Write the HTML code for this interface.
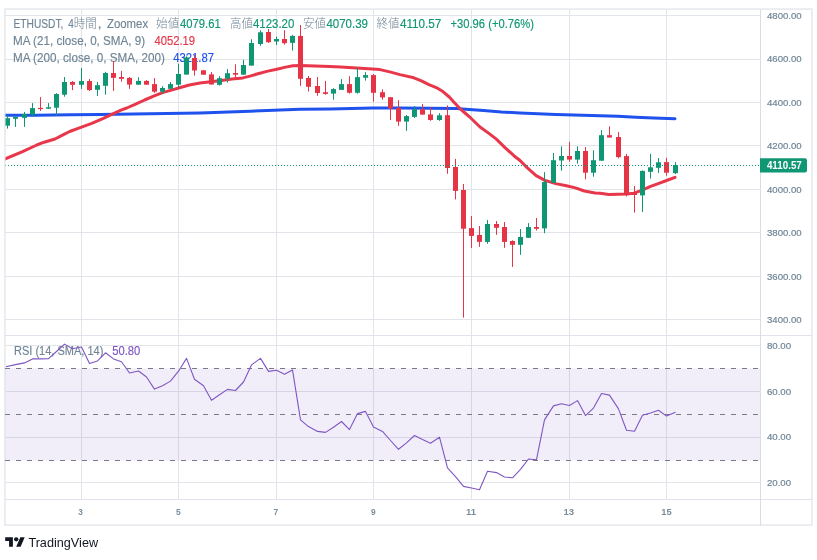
<!DOCTYPE html><html><head><meta charset="utf-8"><style>
html,body{margin:0;padding:0;background:#fff;width:817px;height:560px;overflow:hidden}
svg{display:block;will-change:transform}
text{font-family:"Liberation Sans","Noto Sans CJK JP",sans-serif}
</style></head><body>
<svg width="817" height="560" viewBox="0 0 817 560">
<defs><clipPath id="cm"><rect x="5.5" y="10" width="755" height="325"/></clipPath>
<clipPath id="cr"><rect x="5.5" y="336" width="755" height="163"/></clipPath></defs>
<rect x="4.9" y="9.1" width="807" height="516" fill="#fff" stroke="#e9ebf0" stroke-width="1.8"/>
<line x1="5.5" x2="760.5" y1="15.5" y2="15.5" stroke="#e1e4e9" stroke-width="1"/>
<line x1="5.5" x2="760.5" y1="59.5" y2="59.5" stroke="#e1e4e9" stroke-width="1"/>
<line x1="5.5" x2="760.5" y1="102.5" y2="102.5" stroke="#e1e4e9" stroke-width="1"/>
<line x1="5.5" x2="760.5" y1="145.5" y2="145.5" stroke="#e1e4e9" stroke-width="1"/>
<line x1="5.5" x2="760.5" y1="189.5" y2="189.5" stroke="#e1e4e9" stroke-width="1"/>
<line x1="5.5" x2="760.5" y1="232.5" y2="232.5" stroke="#e1e4e9" stroke-width="1"/>
<line x1="5.5" x2="760.5" y1="276.5" y2="276.5" stroke="#e1e4e9" stroke-width="1"/>
<line x1="5.5" x2="760.5" y1="319.5" y2="319.5" stroke="#e1e4e9" stroke-width="1"/>
<line x1="5.5" x2="760.5" y1="345.5" y2="345.5" stroke="#e1e4e9" stroke-width="1"/>
<line x1="5.5" x2="760.5" y1="391.5" y2="391.5" stroke="#e1e4e9" stroke-width="1"/>
<line x1="5.5" x2="760.5" y1="437.5" y2="437.5" stroke="#e1e4e9" stroke-width="1"/>
<line x1="5.5" x2="760.5" y1="482.5" y2="482.5" stroke="#e1e4e9" stroke-width="1"/>
<line x1="81.5" x2="81.5" y1="10" y2="499" stroke="#e1e4e9" stroke-width="1"/>
<line x1="178.5" x2="178.5" y1="10" y2="499" stroke="#e1e4e9" stroke-width="1"/>
<line x1="276.5" x2="276.5" y1="10" y2="499" stroke="#e1e4e9" stroke-width="1"/>
<line x1="373.5" x2="373.5" y1="10" y2="499" stroke="#e1e4e9" stroke-width="1"/>
<line x1="471.5" x2="471.5" y1="10" y2="499" stroke="#e1e4e9" stroke-width="1"/>
<line x1="569.5" x2="569.5" y1="10" y2="499" stroke="#e1e4e9" stroke-width="1"/>
<line x1="666.5" x2="666.5" y1="10" y2="499" stroke="#e1e4e9" stroke-width="1"/>
<rect x="5.5" y="368.5" width="755.0" height="92" fill="#7e57c2" fill-opacity="0.1"/>
<line x1="5" x2="812" y1="335.5" y2="335.5" stroke="#e0e3eb" stroke-width="1"/>
<line x1="5" x2="812" y1="499.5" y2="499.5" stroke="#e0e3eb" stroke-width="1"/>
<line x1="760.5" x2="760.5" y1="10" y2="525" stroke="#d9dde3" stroke-width="1"/>
<line x1="5" x2="759" y1="368.5" y2="368.5" stroke="#787b86" stroke-width="1" stroke-dasharray="5 6"/>
<line x1="5" x2="759" y1="414.5" y2="414.5" stroke="#787b86" stroke-width="1" stroke-dasharray="5 6"/>
<line x1="5" x2="759" y1="460.5" y2="460.5" stroke="#787b86" stroke-width="1" stroke-dasharray="5 6"/>
<g>
<text x="13.50" y="27.8" font-size="12.1" font-weight="normal" fill="#6f8596" stroke="#6f8596" stroke-width="0.15" textLength="49.90" lengthAdjust="spacingAndGlyphs">ETHUSDT,</text>
<text x="68.20" y="27.8" font-size="12.1" font-weight="normal" fill="#6f8596" stroke="#6f8596" stroke-width="0.15" textLength="5.57" lengthAdjust="spacingAndGlyphs">4</text>
<text x="73.76" y="27.8" font-size="12.3" font-weight="300" fill="#6f8596" textLength="23.22" lengthAdjust="spacingAndGlyphs">時間</text>
<text x="97.80" y="27.8" font-size="12.1" font-weight="normal" fill="#6f8596" stroke="#6f8596" stroke-width="0.15" textLength="3.70" lengthAdjust="spacingAndGlyphs">,</text>
<text x="107.00" y="27.8" font-size="12.1" font-weight="normal" fill="#6f8596" stroke="#6f8596" stroke-width="0.15" textLength="41.14" lengthAdjust="spacingAndGlyphs">Zoomex</text>
<text x="156.10" y="27.8" font-size="12.3" font-weight="300" fill="#6f8596" textLength="23.08" lengthAdjust="spacingAndGlyphs">始値</text>
<text x="180.10" y="27.8" font-size="12.1" font-weight="normal" fill="#0f9673" stroke="#0f9673" stroke-width="0.15" textLength="40.65" lengthAdjust="spacingAndGlyphs">4079.61</text>
<text x="229.90" y="27.8" font-size="12.3" font-weight="300" fill="#6f8596" textLength="23.08" lengthAdjust="spacingAndGlyphs">高値</text>
<text x="253.00" y="27.8" font-size="12.1" font-weight="normal" fill="#0f9673" stroke="#0f9673" stroke-width="0.15" textLength="41.34" lengthAdjust="spacingAndGlyphs">4123.20</text>
<text x="302.90" y="27.8" font-size="12.3" font-weight="300" fill="#6f8596" textLength="23.08" lengthAdjust="spacingAndGlyphs">安値</text>
<text x="326.40" y="27.8" font-size="12.1" font-weight="normal" fill="#0f9673" stroke="#0f9673" stroke-width="0.15" textLength="41.54" lengthAdjust="spacingAndGlyphs">4070.39</text>
<text x="376.40" y="27.8" font-size="12.3" font-weight="300" fill="#6f8596" textLength="23.08" lengthAdjust="spacingAndGlyphs">終値</text>
<text x="399.90" y="27.8" font-size="12.1" font-weight="normal" fill="#0f9673" stroke="#0f9673" stroke-width="0.15" textLength="41.43" lengthAdjust="spacingAndGlyphs">4110.57</text>
<text x="450.40" y="27.8" font-size="12.1" font-weight="normal" fill="#0f9673" stroke="#0f9673" stroke-width="0.15" textLength="83.73" lengthAdjust="spacingAndGlyphs">+30.96 (+0.76%)</text>
<text x="13.00" y="44.8" font-size="12.1" font-weight="normal" fill="#6f8596" stroke="#6f8596" stroke-width="0.15" textLength="132.23" lengthAdjust="spacingAndGlyphs">MA (21, close, 0, SMA, 9)</text>
<text x="154.40" y="44.8" font-size="12.1" font-weight="normal" fill="#e63447" stroke="#e63447" stroke-width="0.15" textLength="40.65" lengthAdjust="spacingAndGlyphs">4052.19</text>
<text x="13.00" y="61.8" font-size="12.1" font-weight="normal" fill="#6f8596" stroke="#6f8596" stroke-width="0.15" textLength="151.93" lengthAdjust="spacingAndGlyphs">MA (200, close, 0, SMA, 200)</text>
<text x="173.30" y="61.8" font-size="12.1" font-weight="normal" fill="#1f52ec" stroke="#1f52ec" stroke-width="0.15" textLength="40.74" lengthAdjust="spacingAndGlyphs">4321.87</text>
<text x="14.00" y="354.9" font-size="12.1" font-weight="normal" fill="#6f8596" stroke="#6f8596" stroke-width="0.15" textLength="89.42" lengthAdjust="spacingAndGlyphs">RSI (14, SMA, 14)</text>
<text x="112.20" y="354.9" font-size="12.1" font-weight="normal" fill="#7e57c2" stroke="#7e57c2" stroke-width="0.15" textLength="28.05" lengthAdjust="spacingAndGlyphs">50.80</text>
</g>
<g clip-path="url(#cm)">
<polyline points="5.4,115.2 35.7,115.2 71.4,114.8 100.0,114.4 150.0,113.8 200.0,113.0 250.0,111.2 300.0,109.2 330.0,108.9 372.9,108.1 400.0,108.1 430.0,108.3 456.8,108.6 465.7,109.2 483.6,110.6 501.4,112.0 520.0,112.9 537.9,113.8 555.7,114.5 573.6,115.1 591.4,115.5 600.0,115.7 617.9,116.3 635.7,117.2 653.6,117.9 675.0,118.7" fill="none" stroke="#1f52ec" stroke-width="3" stroke-linejoin="round" stroke-linecap="round"/>
<polyline points="5.4,158.8 22.0,151.8 36.8,145.0 44.1,142.2 55.0,139.0 62.5,135.2 69.7,131.5 81.5,127.1 91.8,123.4 102.8,118.6 115.0,112.9 121.0,110.1 126.8,108.0 135.7,104.1 144.6,100.0 153.6,96.1 162.5,92.6 171.4,90.1 180.4,87.5 189.3,85.0 200.0,83.0 210.7,81.8 221.4,80.4 232.1,79.1 242.9,77.9 250.0,76.1 258.9,73.5 267.9,71.1 276.8,69.2 285.7,67.1 292.9,65.7 300.0,65.6 315.0,66.0 330.0,66.6 340.7,66.9 356.8,68.1 380.0,69.6 390.7,72.1 400.0,74.6 413.9,77.8 421.4,80.9 428.9,84.7 437.5,88.2 442.9,91.6 449.3,97.0 454.7,102.9 460.0,108.6 465.0,113.0 471.0,118.2 480.0,127.0 488.9,133.4 496.1,138.9 505.0,147.6 513.9,155.7 520.0,160.5 527.1,167.6 536.1,175.6 545.0,180.4 555.7,183.6 566.4,185.7 575.4,187.9 584.3,191.0 595.0,193.0 600.0,193.2 608.9,194.5 617.9,194.3 626.8,194.1 633.9,193.2 641.1,190.7 650.0,186.6 658.9,183.4 667.9,180.0 675.0,177.3" fill="none" stroke="#e8364a" stroke-width="3" stroke-linejoin="round" stroke-linecap="round"/>
<rect x="7" y="115.3" width="1" height="13.3" fill="#0f9673"/>
<rect x="5" y="118.2" width="5" height="7.5" fill="#0f9673"/>
<rect x="15" y="116.2" width="1" height="10.7" fill="#0f9673"/>
<rect x="13" y="116.8" width="5" height="2.0" fill="#0f9673"/>
<rect x="24" y="112.0" width="1" height="14.9" fill="#0f9673"/>
<rect x="22" y="114.0" width="5" height="3.9" fill="#0f9673"/>
<rect x="32" y="103.1" width="1" height="13.7" fill="#0f9673"/>
<rect x="30" y="108.1" width="5" height="6.6" fill="#0f9673"/>
<rect x="40" y="97.1" width="1" height="13.8" fill="#e63447"/>
<rect x="38" y="107.9" width="5" height="1.2" fill="#e63447"/>
<rect x="48" y="103.1" width="1" height="5.6" fill="#0f9673"/>
<rect x="46" y="107.2" width="5" height="1.5" fill="#0f9673"/>
<rect x="56" y="93.2" width="1" height="22.7" fill="#0f9673"/>
<rect x="54" y="94.0" width="5" height="13.7" fill="#0f9673"/>
<rect x="64" y="77.0" width="1" height="19.7" fill="#0f9673"/>
<rect x="62" y="82.0" width="5" height="12.7" fill="#0f9673"/>
<rect x="72" y="81.1" width="1" height="9.0" fill="#e63447"/>
<rect x="70" y="81.9" width="5" height="2.9" fill="#e63447"/>
<rect x="81" y="68.0" width="1" height="20.9" fill="#0f9673"/>
<rect x="79" y="81.1" width="5" height="3.7" fill="#0f9673"/>
<rect x="89" y="79.0" width="1" height="11.9" fill="#e63447"/>
<rect x="87" y="81.0" width="5" height="9.1" fill="#e63447"/>
<rect x="97" y="81.9" width="1" height="14.0" fill="#0f9673"/>
<rect x="95" y="85.2" width="5" height="4.6" fill="#0f9673"/>
<rect x="105" y="71.8" width="1" height="22.9" fill="#0f9673"/>
<rect x="103" y="73.0" width="5" height="12.8" fill="#0f9673"/>
<rect x="113" y="61.0" width="1" height="29.9" fill="#e63447"/>
<rect x="111" y="73.0" width="5" height="4.9" fill="#e63447"/>
<rect x="121" y="70.9" width="1" height="10.7" fill="#e63447"/>
<rect x="119" y="77.0" width="5" height="1.8" fill="#e63447"/>
<rect x="129" y="77.0" width="1" height="11.9" fill="#e63447"/>
<rect x="127" y="77.9" width="5" height="6.7" fill="#e63447"/>
<rect x="138" y="77.2" width="1" height="7.5" fill="#0f9673"/>
<rect x="136" y="80.9" width="5" height="3.8" fill="#0f9673"/>
<rect x="146" y="80.1" width="1" height="4.6" fill="#e63447"/>
<rect x="144" y="80.9" width="5" height="3.8" fill="#e63447"/>
<rect x="154" y="78.1" width="1" height="14.7" fill="#e63447"/>
<rect x="152" y="84.1" width="5" height="7.6" fill="#e63447"/>
<rect x="162" y="86.2" width="1" height="7.8" fill="#0f9673"/>
<rect x="160" y="88.0" width="5" height="3.7" fill="#0f9673"/>
<rect x="170" y="82.0" width="1" height="6.8" fill="#0f9673"/>
<rect x="168" y="84.1" width="5" height="4.7" fill="#0f9673"/>
<rect x="178" y="63.8" width="1" height="23.8" fill="#0f9673"/>
<rect x="176" y="74.0" width="5" height="10.7" fill="#0f9673"/>
<rect x="186" y="56.3" width="1" height="18.3" fill="#0f9673"/>
<rect x="184" y="57.4" width="5" height="17.2" fill="#0f9673"/>
<rect x="194" y="55.1" width="1" height="20.5" fill="#e63447"/>
<rect x="192" y="58.0" width="5" height="12.5" fill="#e63447"/>
<rect x="203" y="70.3" width="1" height="4.4" fill="#e63447"/>
<rect x="201" y="70.3" width="5" height="4.4" fill="#e63447"/>
<rect x="211" y="72.0" width="1" height="12.5" fill="#e63447"/>
<rect x="209" y="74.4" width="5" height="10.1" fill="#e63447"/>
<rect x="219" y="76.1" width="1" height="9.5" fill="#0f9673"/>
<rect x="217" y="78.2" width="5" height="6.6" fill="#0f9673"/>
<rect x="227" y="69.1" width="1" height="13.4" fill="#0f9673"/>
<rect x="225" y="73.2" width="5" height="5.5" fill="#0f9673"/>
<rect x="235" y="64.3" width="1" height="13.5" fill="#e63447"/>
<rect x="233" y="73.0" width="5" height="1.7" fill="#e63447"/>
<rect x="243" y="59.8" width="1" height="14.9" fill="#0f9673"/>
<rect x="241" y="65.0" width="5" height="9.7" fill="#0f9673"/>
<rect x="251" y="39.2" width="1" height="26.4" fill="#0f9673"/>
<rect x="249" y="43.0" width="5" height="22.6" fill="#0f9673"/>
<rect x="260" y="30.3" width="1" height="15.5" fill="#0f9673"/>
<rect x="258" y="32.3" width="5" height="11.7" fill="#0f9673"/>
<rect x="268" y="29.0" width="1" height="13.9" fill="#e63447"/>
<rect x="266" y="32.0" width="5" height="10.2" fill="#e63447"/>
<rect x="276" y="36.6" width="1" height="8.4" fill="#0f9673"/>
<rect x="274" y="39.0" width="5" height="2.5" fill="#0f9673"/>
<rect x="284" y="30.1" width="1" height="14.5" fill="#e63447"/>
<rect x="282" y="39.0" width="5" height="4.2" fill="#e63447"/>
<rect x="292" y="34.8" width="1" height="15.8" fill="#0f9673"/>
<rect x="290" y="35.9" width="5" height="7.0" fill="#0f9673"/>
<rect x="300" y="25.0" width="1" height="60.8" fill="#e63447"/>
<rect x="298" y="35.9" width="5" height="42.9" fill="#e63447"/>
<rect x="308" y="76.0" width="1" height="15.6" fill="#e63447"/>
<rect x="306" y="78.0" width="5" height="8.8" fill="#e63447"/>
<rect x="317" y="77.0" width="1" height="18.8" fill="#e63447"/>
<rect x="315" y="86.0" width="5" height="7.0" fill="#e63447"/>
<rect x="325" y="80.9" width="1" height="13.8" fill="#e63447"/>
<rect x="323" y="92.2" width="5" height="1.7" fill="#e63447"/>
<rect x="333" y="88.1" width="1" height="11.6" fill="#0f9673"/>
<rect x="331" y="89.1" width="5" height="4.5" fill="#0f9673"/>
<rect x="341" y="79.1" width="1" height="10.8" fill="#0f9673"/>
<rect x="339" y="84.1" width="5" height="5.8" fill="#0f9673"/>
<rect x="349" y="76.2" width="1" height="17.4" fill="#e63447"/>
<rect x="347" y="84.1" width="5" height="8.7" fill="#e63447"/>
<rect x="357" y="68.0" width="1" height="25.6" fill="#0f9673"/>
<rect x="355" y="77.1" width="5" height="15.7" fill="#0f9673"/>
<rect x="365" y="72.2" width="1" height="8.4" fill="#0f9673"/>
<rect x="363" y="75.1" width="5" height="2.6" fill="#0f9673"/>
<rect x="373" y="74.0" width="1" height="27.7" fill="#e63447"/>
<rect x="371" y="75.1" width="5" height="17.7" fill="#e63447"/>
<rect x="382" y="89.3" width="1" height="10.4" fill="#e63447"/>
<rect x="380" y="92.2" width="5" height="5.2" fill="#e63447"/>
<rect x="390" y="97.2" width="1" height="22.8" fill="#e63447"/>
<rect x="388" y="97.2" width="5" height="11.4" fill="#e63447"/>
<rect x="398" y="100.2" width="1" height="25.6" fill="#e63447"/>
<rect x="396" y="108.0" width="5" height="13.6" fill="#e63447"/>
<rect x="406" y="115.0" width="1" height="15.9" fill="#0f9673"/>
<rect x="404" y="116.1" width="5" height="5.5" fill="#0f9673"/>
<rect x="414" y="106.0" width="1" height="11.9" fill="#0f9673"/>
<rect x="412" y="109.2" width="5" height="7.7" fill="#0f9673"/>
<rect x="422" y="103.9" width="1" height="10.7" fill="#e63447"/>
<rect x="420" y="109.2" width="5" height="5.4" fill="#e63447"/>
<rect x="430" y="107.2" width="1" height="13.6" fill="#e63447"/>
<rect x="428" y="114.4" width="5" height="5.6" fill="#e63447"/>
<rect x="439" y="113.2" width="1" height="7.6" fill="#0f9673"/>
<rect x="437" y="115.3" width="5" height="4.7" fill="#0f9673"/>
<rect x="447" y="105.4" width="1" height="68.4" fill="#e63447"/>
<rect x="445" y="115.2" width="5" height="52.8" fill="#e63447"/>
<rect x="455" y="158.9" width="1" height="40.5" fill="#e63447"/>
<rect x="453" y="167.0" width="5" height="23.9" fill="#e63447"/>
<rect x="463" y="184.0" width="1" height="133.6" fill="#e63447"/>
<rect x="461" y="190.0" width="5" height="38.7" fill="#e63447"/>
<rect x="471" y="216.0" width="1" height="31.9" fill="#e63447"/>
<rect x="469" y="228.1" width="5" height="7.8" fill="#e63447"/>
<rect x="479" y="226.0" width="1" height="20.9" fill="#e63447"/>
<rect x="477" y="235.0" width="5" height="6.9" fill="#e63447"/>
<rect x="487" y="220.0" width="1" height="23.8" fill="#0f9673"/>
<rect x="485" y="224.0" width="5" height="17.9" fill="#0f9673"/>
<rect x="496" y="221.0" width="1" height="13.8" fill="#e63447"/>
<rect x="494" y="224.0" width="5" height="3.8" fill="#e63447"/>
<rect x="504" y="222.0" width="1" height="25.9" fill="#e63447"/>
<rect x="502" y="227.0" width="5" height="14.9" fill="#e63447"/>
<rect x="512" y="240.3" width="1" height="26.6" fill="#e63447"/>
<rect x="510" y="241.0" width="5" height="3.8" fill="#e63447"/>
<rect x="520" y="229.0" width="1" height="25.8" fill="#0f9673"/>
<rect x="518" y="237.0" width="5" height="7.8" fill="#0f9673"/>
<rect x="528" y="223.1" width="1" height="14.7" fill="#0f9673"/>
<rect x="526" y="227.0" width="5" height="10.8" fill="#0f9673"/>
<rect x="536" y="218.0" width="1" height="12.5" fill="#e63447"/>
<rect x="534" y="227.0" width="5" height="1.8" fill="#e63447"/>
<rect x="544" y="172.1" width="1" height="61.1" fill="#0f9673"/>
<rect x="542" y="182.0" width="5" height="46.4" fill="#0f9673"/>
<rect x="553" y="153.0" width="1" height="29.9" fill="#0f9673"/>
<rect x="551" y="160.2" width="5" height="22.7" fill="#0f9673"/>
<rect x="561" y="146.3" width="1" height="24.4" fill="#0f9673"/>
<rect x="559" y="156.0" width="5" height="4.5" fill="#0f9673"/>
<rect x="569" y="141.8" width="1" height="20.0" fill="#e63447"/>
<rect x="567" y="156.0" width="5" height="3.6" fill="#e63447"/>
<rect x="577" y="146.3" width="1" height="17.3" fill="#0f9673"/>
<rect x="575" y="151.0" width="5" height="8.6" fill="#0f9673"/>
<rect x="585" y="147.1" width="1" height="32.2" fill="#e63447"/>
<rect x="583" y="151.0" width="5" height="21.7" fill="#e63447"/>
<rect x="593" y="150.3" width="1" height="26.4" fill="#0f9673"/>
<rect x="591" y="160.2" width="5" height="12.5" fill="#0f9673"/>
<rect x="601" y="130.2" width="1" height="30.5" fill="#0f9673"/>
<rect x="599" y="135.2" width="5" height="25.5" fill="#0f9673"/>
<rect x="609" y="126.3" width="1" height="11.2" fill="#e63447"/>
<rect x="607" y="135.2" width="5" height="2.3" fill="#e63447"/>
<rect x="618" y="132.1" width="1" height="26.3" fill="#e63447"/>
<rect x="616" y="137.0" width="5" height="20.1" fill="#e63447"/>
<rect x="626" y="153.9" width="1" height="42.5" fill="#e63447"/>
<rect x="624" y="156.1" width="5" height="38.9" fill="#e63447"/>
<rect x="634" y="186.0" width="1" height="26.5" fill="#e63447"/>
<rect x="632" y="192.3" width="5" height="2.7" fill="#e63447"/>
<rect x="642" y="170.4" width="1" height="41.6" fill="#0f9673"/>
<rect x="640" y="170.9" width="5" height="24.5" fill="#0f9673"/>
<rect x="650" y="153.9" width="1" height="24.7" fill="#0f9673"/>
<rect x="648" y="167.3" width="5" height="4.5" fill="#0f9673"/>
<rect x="658" y="158.0" width="1" height="14.9" fill="#0f9673"/>
<rect x="656" y="162.3" width="5" height="5.5" fill="#0f9673"/>
<rect x="666" y="157.9" width="1" height="17.8" fill="#e63447"/>
<rect x="664" y="162.1" width="5" height="10.6" fill="#e63447"/>
<rect x="675" y="162.1" width="1" height="11.8" fill="#0f9673"/>
<rect x="673" y="165.0" width="5" height="8.2" fill="#0f9673"/>
<line x1="5" x2="760" y1="165.5" y2="165.5" stroke="#0f9673" stroke-width="1" stroke-dasharray="1 2"/>
</g>
<g clip-path="url(#cr)">
<polyline points="5.8,366.7 15.5,364.6 24.5,362.9 32.5,358.9 40.5,358.9 48.5,358.7 56.5,351.5 64.5,344.1 72.5,348.8 81.5,347.0 89.5,363.6 97.5,360.9 105.5,352.8 113.5,358.9 121.5,361.8 129.5,373.0 138.5,371.0 146.5,377.0 154.5,389.1 162.5,385.8 170.5,381.1 178.5,371.2 186.5,358.4 194.5,379.3 203.5,385.8 211.5,400.3 219.5,394.8 227.5,389.4 235.5,390.5 243.5,382.0 251.5,364.9 260.5,358.4 268.5,371.4 276.5,370.3 284.5,374.3 292.5,369.9 300.5,419.9 308.5,426.6 317.5,431.4 325.5,432.4 333.5,427.3 341.5,421.5 349.5,429.6 357.5,413.6 365.5,411.4 373.5,426.9 382.5,431.4 390.5,440.5 398.5,449.3 406.5,442.9 414.5,435.5 422.5,439.5 430.5,443.2 439.5,437.2 447.5,467.8 455.5,476.6 463.5,486.4 471.5,488.0 479.5,489.7 487.5,471.2 496.5,472.6 504.5,477.0 512.5,477.8 520.5,469.3 528.5,459.0 536.5,459.7 544.5,419.9 553.5,405.9 561.5,403.8 569.5,405.5 577.5,400.6 585.5,415.6 593.5,408.1 601.5,393.5 609.5,395.1 618.5,408.9 626.5,430.2 634.5,431.2 642.5,415.3 650.5,413.0 658.5,410.3 666.5,416.1 675.5,412.2" fill="none" stroke="#7e57c2" stroke-width="1.1" stroke-linejoin="round"/>
</g>
<path d="M760 158.2 H805 a2 2 0 0 1 2 2 V170.6 a2 2 0 0 1 -2 2 H760 Z" fill="#0f9673"/>
<text x="767.00" y="18.9" font-size="9.9" font-weight="normal" fill="#6f8596" stroke="#6f8596" stroke-width="0.2" textLength="34.61" lengthAdjust="spacingAndGlyphs">4800.00</text>
<text x="767.00" y="62.339999999999996" font-size="9.9" font-weight="normal" fill="#6f8596" stroke="#6f8596" stroke-width="0.2" textLength="34.61" lengthAdjust="spacingAndGlyphs">4600.00</text>
<text x="767.00" y="105.78" font-size="9.9" font-weight="normal" fill="#6f8596" stroke="#6f8596" stroke-width="0.2" textLength="34.61" lengthAdjust="spacingAndGlyphs">4400.00</text>
<text x="767.00" y="149.22" font-size="9.9" font-weight="normal" fill="#6f8596" stroke="#6f8596" stroke-width="0.2" textLength="34.61" lengthAdjust="spacingAndGlyphs">4200.00</text>
<text x="767.00" y="192.66" font-size="9.9" font-weight="normal" fill="#6f8596" stroke="#6f8596" stroke-width="0.2" textLength="34.61" lengthAdjust="spacingAndGlyphs">4000.00</text>
<text x="767.00" y="236.1" font-size="9.9" font-weight="normal" fill="#6f8596" stroke="#6f8596" stroke-width="0.2" textLength="34.61" lengthAdjust="spacingAndGlyphs">3800.00</text>
<text x="767.00" y="279.53999999999996" font-size="9.9" font-weight="normal" fill="#6f8596" stroke="#6f8596" stroke-width="0.2" textLength="34.61" lengthAdjust="spacingAndGlyphs">3600.00</text>
<text x="767.00" y="322.97999999999996" font-size="9.9" font-weight="normal" fill="#6f8596" stroke="#6f8596" stroke-width="0.2" textLength="34.61" lengthAdjust="spacingAndGlyphs">3400.00</text>
<text x="766.90" y="348.8" font-size="9.9" font-weight="normal" fill="#6f8596" stroke="#6f8596" stroke-width="0.2" textLength="24.20" lengthAdjust="spacingAndGlyphs">80.00</text>
<text x="766.90" y="394.7" font-size="9.9" font-weight="normal" fill="#6f8596" stroke="#6f8596" stroke-width="0.2" textLength="24.20" lengthAdjust="spacingAndGlyphs">60.00</text>
<text x="766.90" y="440.0" font-size="9.9" font-weight="normal" fill="#6f8596" stroke="#6f8596" stroke-width="0.2" textLength="24.20" lengthAdjust="spacingAndGlyphs">40.00</text>
<text x="766.90" y="485.9" font-size="9.9" font-weight="normal" fill="#6f8596" stroke="#6f8596" stroke-width="0.2" textLength="24.20" lengthAdjust="spacingAndGlyphs">20.00</text>
<text x="766.90" y="169.1" font-size="10.3" font-weight="bold" fill="#ffffff" textLength="34.94" lengthAdjust="spacingAndGlyphs">4110.57</text>
<g transform="translate(5.2,535.1) scale(0.55,0.53)" fill="#131722"><path d="M14 22H7V11H0V4h14v18zM28 22h-8l7.5-18h8L28 22z"/><circle cx="20" cy="8" r="4"/></g>
<text x="78.20" y="515.0" font-size="9.9" font-weight="bold" fill="#7a8e9d" textLength="4.58" lengthAdjust="spacingAndGlyphs">3</text>
<text x="175.90" y="515.0" font-size="9.9" font-weight="bold" fill="#7a8e9d" textLength="4.67" lengthAdjust="spacingAndGlyphs">5</text>
<text x="273.60" y="515.0" font-size="9.9" font-weight="bold" fill="#7a8e9d" textLength="4.76" lengthAdjust="spacingAndGlyphs">7</text>
<text x="370.90" y="515.0" font-size="9.9" font-weight="bold" fill="#7a8e9d" textLength="4.67" lengthAdjust="spacingAndGlyphs">9</text>
<text x="465.90" y="515.0" font-size="9.9" font-weight="bold" fill="#7a8e9d" textLength="10.11" lengthAdjust="spacingAndGlyphs">11</text>
<text x="563.50" y="515.0" font-size="9.9" font-weight="bold" fill="#7a8e9d" textLength="10.61" lengthAdjust="spacingAndGlyphs">13</text>
<text x="661.20" y="515.0" font-size="9.9" font-weight="bold" fill="#7a8e9d" textLength="10.42" lengthAdjust="spacingAndGlyphs">15</text>
<text x="28.40" y="546.9" font-size="12.2" font-weight="normal" fill="#131722" textLength="69.69" lengthAdjust="spacingAndGlyphs">TradingView</text>
</svg></body></html>
